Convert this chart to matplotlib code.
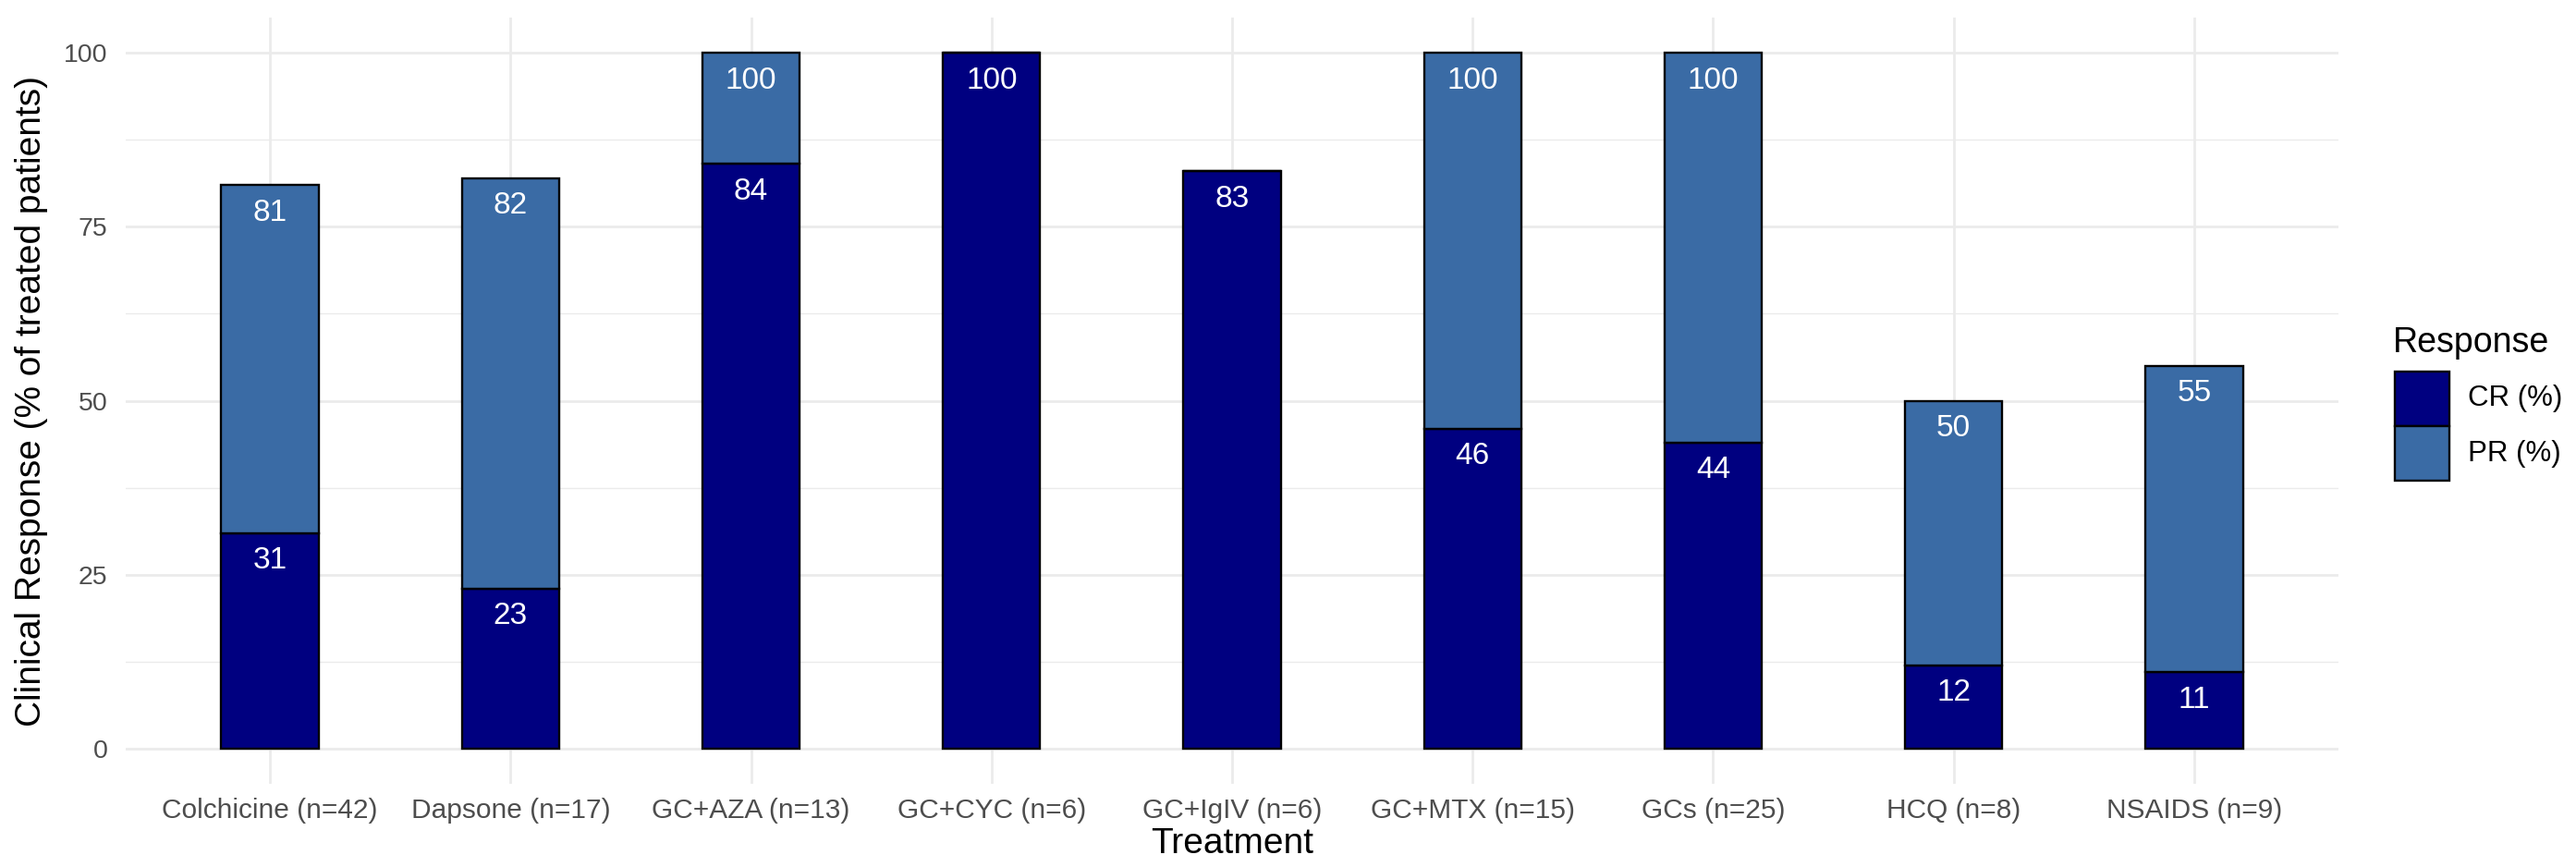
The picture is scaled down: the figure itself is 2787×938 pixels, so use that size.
import matplotlib
matplotlib.use("Agg")
import matplotlib.pyplot as plt
from matplotlib.patches import Rectangle
import numpy as np

# ---- data ----
treatments = ["Colchicine (n=42)", "Dapsone (n=17)", "GC+AZA (n=13)", "GC+CYC (n=6)",
              "GC+IgIV (n=6)", "GC+MTX (n=15)", "GCs (n=25)", "HCQ (n=8)", "NSAIDS (n=9)"]
cr_pct = [31, 23, 84, 100, 83, 46, 44, 12, 11]
pr_pct = [50, 59, 16, 0, 0, 54, 56, 38, 44]
y_ticks = [0, 25, 50, 75, 100]
series_names = ["CR (%)", "PR (%)"]

CR_COLOR = "#000080"
PR_COLOR = "#3A6BA5"
GRID = "#EBEBEB"
TICK_COL = "#4D4D4D"
EDGE_LW = 1.7

plt.rcParams["font.family"] = ["Liberation Sans", "DejaVu Sans"]

W, H = 2787, 938
fig = plt.figure(figsize=(W / 100, H / 100), dpi=100)
ax = fig.add_axes([136 / W, 1 - 847.7 / H, (2530 - 136) / W, (847.7 - 19.35) / H])

x = np.arange(len(treatments))
cr = np.array(cr_pct, dtype=float)
pr = np.array(pr_pct, dtype=float)
total = cr + pr

ax.bar(x, cr, width=0.405, color=CR_COLOR, edgecolor="black", linewidth=EDGE_LW, zorder=3)
ax.bar(x, pr, bottom=cr, width=0.405, color=PR_COLOR, edgecolor="black", linewidth=EDGE_LW, zorder=3)

for xi, c, p, t in zip(x, cr, pr, total):
    if c > 0:
        ax.text(xi, c - 4.0, f"{int(c)}", ha="center", va="center", color="white",
                fontsize=24, zorder=4)
    if p > 0:
        ax.text(xi, t - 4.0, f"{int(t)}", ha="center", va="center", color="white",
                fontsize=24, zorder=4)

ax.set_xlim(-0.6, len(treatments) - 1 + 0.6)
ax.set_ylim(-5, 105)
ax.set_yticks(y_ticks)
ax.set_yticks([12.5, 37.5, 62.5, 87.5], minor=True)
ax.set_xticks(x)
ax.set_xticklabels(treatments)

ax.grid(True, which="major", axis="both", color=GRID, linewidth=2.0, zorder=0)
ax.grid(True, which="minor", axis="y", color=GRID, linewidth=1.0, zorder=0)
for s in ax.spines.values():
    s.set_visible(False)
ax.tick_params(axis="both", which="both", length=0)
ax.tick_params(axis="x", labelsize=21.5, labelcolor=TICK_COL, pad=11)
ax.tick_params(axis="y", labelsize=20.5, labelcolor=TICK_COL, pad=14)

ax.set_xlabel("Treatment", fontsize=28, color="black", labelpad=3)
ax.set_ylabel("Clinical Response (% of treated patients)", fontsize=28, color="black", labelpad=12)

# ---- legend (drawn in a pixel-coordinate overlay) ----
lax = fig.add_axes([0, 0, 1, 1], facecolor="none")
lax.set_xlim(0, W)
lax.set_ylim(H, 0)
lax.axis("off")
lax.text(2589, 381, "Response", fontsize=27, color="black", ha="left", va="baseline")
key_colors = [CR_COLOR, PR_COLOR]
key_top = 402
key_size = 59
for i, (name, col) in enumerate(zip(series_names, key_colors)):
    y0 = key_top + i * key_size
    lax.add_patch(Rectangle((2591, y0), key_size, key_size, facecolor=col,
                            edgecolor="black", linewidth=EDGE_LW))
    lax.text(2670, y0 + key_size / 2, name, fontsize=22.5, color="black",
             ha="left", va="center")

fig.savefig("out.png", dpi=100, facecolor="white")
